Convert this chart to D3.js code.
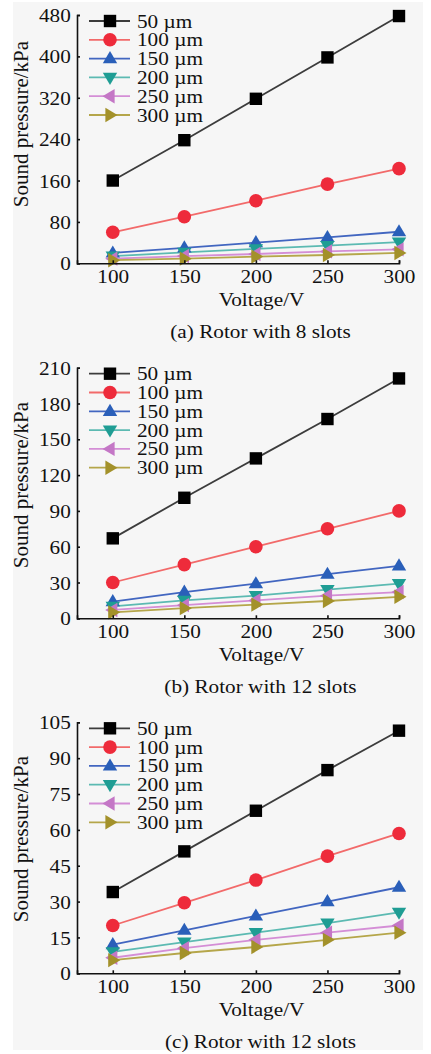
<!DOCTYPE html>
<html><head><meta charset="utf-8">
<script src="https://cdn.jsdelivr.net/npm/d3@7"></script>
<style>body{margin:0;background:#fff}svg{display:block}</style>
</head><body>
<svg id="c" width="431" height="1054"></svg>
<script>
const voltages = [100, 150, 200, 250, 300];
const gaps = ["50 µm", "100 µm", "150 µm", "200 µm", "250 µm", "300 µm"];
const rotor8 = [
  [160, 238, 318, 398, 478],
  [60, 90, 121, 153, 183],
  [20, 30, 40, 50, 61],
  [14, 21, 28, 34, 41],
  [9, 14, 18, 23, 27],
  [6, 9, 13, 16, 20]
];
const rotor12b = [
  [67, 101, 134, 167, 201],
  [30, 45, 60, 75, 90],
  [14, 22, 29, 37, 44],
  [10, 15, 19, 24, 29],
  [7, 11, 15, 19, 22],
  [5, 8.5, 11.5, 14.5, 18]
];
const rotor12c = [
  [34, 51, 68, 85, 101.5],
  [20, 29.5, 39, 49, 58.5],
  [12, 18, 24, 30, 36],
  [9, 13, 17, 21, 25.5],
  [6.5, 10.5, 14, 17, 20],
  [5.5, 8.5, 11, 14, 17]
];
const ticksA = [0, 80, 160, 240, 320, 400, 480];
const ticksB = [0, 30, 60, 90, 120, 150, 180, 210];
const ticksC = [0, 15, 30, 45, 60, 75, 90, 105];
const captions = ["(a) Rotor with 8 slots", "(b) Rotor with 12 slots", "(c) Rotor with 12 slots"];
const xTitle = "Voltage/V";
const yTitle = "Sound pressure/kPa";

const markerColors = ["#000000", "#ee2b3b", "#2a5fb9", "#1f9d94", "#c477c6", "#a3912a"];
const lineColors = ["#3c3c3c", "#f26a6a", "#4266c0", "#5cbab2", "#d48ed6", "#b5a64a"];
const shapes = ["square", "circle", "up", "down", "left", "right"];

const FONT = "'Liberation Serif','Times New Roman',serif";
const FS = 18.8, SX = 1.13;
const svg = d3.select("#c");
svg.append("rect").attr("x", 13).attr("y", 2).attr("width", 410).attr("height", 1048).attr("fill", "#f6f6f6");

function markerPath(shape) {
  switch (shape) {
    case "square": return "M-6.2,-6.2H6.2V6.2H-6.2Z";
    case "circle": return d3.symbol(d3.symbolCircle, 145)();
    case "up": return "M0,-7.5L7.2,4.6L-7.2,4.6Z";
    case "down": return "M0,7.5L7.2,-4.6L-7.2,-4.6Z";
    case "left": return "M-7.5,0L4.6,-7.2L4.6,7.2Z";
    case "right": return "M7.5,0L-4.6,-7.2L-4.6,7.2Z";
  }
}

function label(g, tx, ty, str, anchor) {
  return g.append("text").attr("transform", `translate(${tx},${ty}) scale(${SX},1)`)
    .attr("dy", "0.35em").attr("text-anchor", anchor || "start")
    .attr("font-family", FONT).attr("font-size", FS).attr("fill", "#111").text(str);
}

const panels = [
  {data: rotor8, ticks: ticksA, top: 15, bottom: 263.3, cap: captions[0], titleMid: 124},
  {data: rotor12b, ticks: ticksB, top: 367.7, bottom: 618.3, cap: captions[1], titleMid: 485},
  {data: rotor12c, ticks: ticksC, top: 722.3, bottom: 973.3, cap: captions[2], titleMid: 839}
];

const x = d3.scaleLinear().domain([75, 300]).range([77, 399]);

panels.forEach(p => {
  const g = svg.append("g");
  const y = d3.scaleLinear().domain([0, p.ticks[p.ticks.length - 1]]).range([p.bottom, p.top]);

  p.data.forEach((vals, si) => {
    const pts = vals.map((v, i) => [voltages[i], v]);
    g.append("path").datum(pts)
      .attr("fill", "none").attr("stroke", lineColors[si]).attr("stroke-width", 1.8)
      .attr("d", d3.line().x(d => x(d[0])).y(d => y(d[1])));
  });
  p.data.forEach((vals, si) => {
    g.selectAll(null).data(vals.map((v, i) => [voltages[i], v])).enter()
      .append("path").attr("d", markerPath(shapes[si]))
      .attr("transform", d => `translate(${x(d[0])},${y(d[1])})`)
      .attr("fill", markerColors[si]);
  });

  const ya = g.append("g").attr("transform", "translate(77,0)")
    .call(d3.axisLeft(y).tickValues(p.ticks).tickSizeInner(-3).tickSizeOuter(-3).tickPadding(5.5));
  const xa = g.append("g").attr("transform", `translate(0,${p.bottom})`)
    .call(d3.axisBottom(x).tickValues(voltages).tickSizeInner(-3).tickSizeOuter(-3).tickPadding(6));
  [ya, xa].forEach(a => {
    a.selectAll("path,line").attr("stroke", "#111").attr("stroke-width", 1.6);
    a.selectAll("text").attr("font-family", FONT).attr("font-size", FS).attr("fill", "#111")
      .attr("transform", `scale(${SX},1)`);
  });
  ya.selectAll("text").attr("dy", "0.35em");

  gaps.forEach((name, si) => {
    const ly = p.top + 6 + si * 18.8;
    g.append("line").attr("x1", 89).attr("x2", 130).attr("y1", ly).attr("y2", ly)
      .attr("stroke", lineColors[si]).attr("stroke-width", 1.8);
    g.append("path").attr("d", markerPath(shapes[si]))
      .attr("transform", `translate(110,${ly})`).attr("fill", markerColors[si]);
    label(g, 137, ly, name);
  });

  label(g, 261.5, p.bottom + 36, xTitle, "middle");
  label(g, 260.5, p.bottom + 68.5, p.cap, "middle");
  g.append("text").attr("transform", `translate(21,${p.titleMid}) rotate(-90)`).attr("dy", "0.33em")
    .attr("text-anchor", "middle").attr("font-family", FONT).attr("font-size", 21).attr("fill", "#111")
    .text(yTitle);
});
</script>
</body></html>
